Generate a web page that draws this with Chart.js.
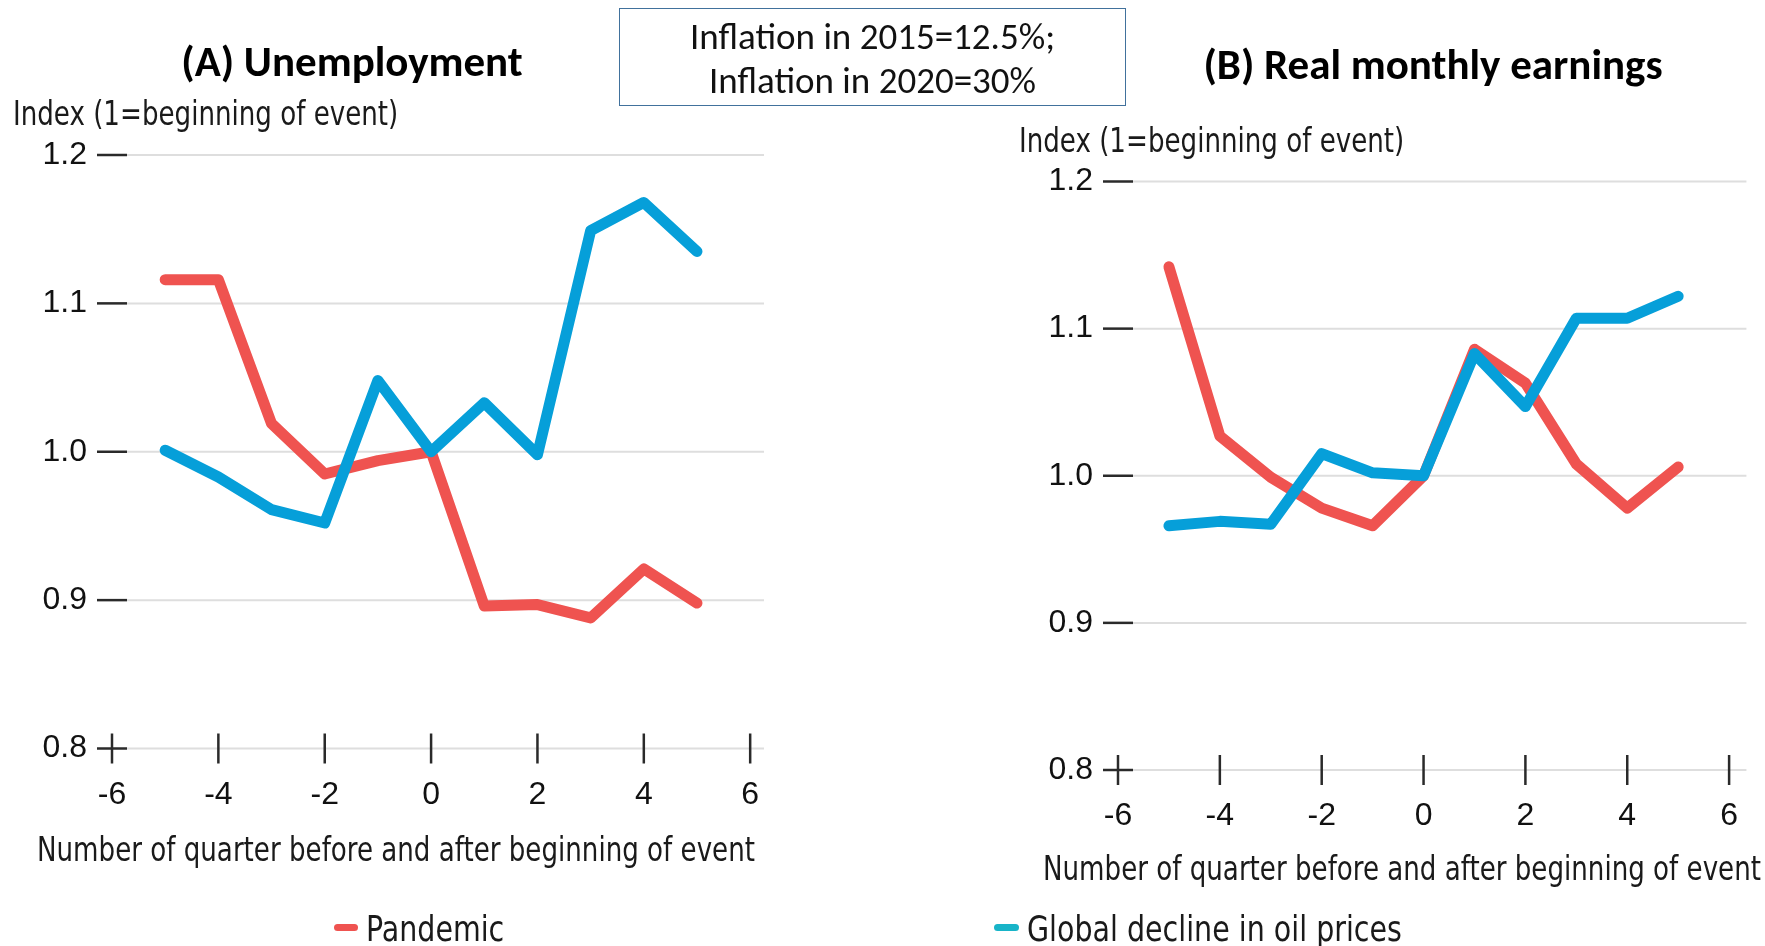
<!DOCTYPE html>
<html>
<head>
<meta charset="utf-8">
<script src="https://cdn.jsdelivr.net/npm/chart.js@4/dist/chart.umd.min.js"></script>
<style>
  html, body { margin: 0; padding: 0; background: #fff; }
  #wrap { position: relative; width: 1765px; height: 946px; overflow: hidden; }
  canvas { position: absolute; top: 0; }
  .txt { position: absolute; white-space: nowrap; color: #1a1a1a; }
  .title { font-family: Carlito, Lato, sans-serif; font-weight: bold; font-size: 43px; line-height: 50px; transform: translateX(-50%); color: #000; }
  .narrow { font-family: "Liberation Sans Narrow", "DejaVu Sans Condensed", "Liberation Sans", sans-serif; font-size: 33px; line-height: 36px;
            transform: scaleX(0.88); transform-origin: left center; }
  .legend { font-size: 36px; line-height: 40px; }
  .dash { position: absolute; height: 7px; border-radius: 4px; }
  #note { position: absolute; left: 619px; top: 8px; width: 505px; height: 90px; padding-top: 6px; border: 1.5px solid #41719c;
          font-family: Carlito, Lato, sans-serif; font-size: 37px; line-height: 44px; text-align: center; color: #111; }
</style>
</head>
<body>
<div id="wrap">
  <canvas id="chartA" width="880" height="946" style="left:0"></canvas>
  <canvas id="chartB" width="885" height="946" style="left:880px"></canvas>

  <div class="txt title" style="left:352px; top:37px">(A) Unemployment</div>
  <div class="txt title" style="left:1433px; top:40px">(B) Real monthly earnings</div>
  <div id="note">Inflation in 2015=12.5%;<br>Inflation in 2020=30%</div>

  <div class="txt narrow" style="left:13px; top:96px">Index (1=beginning of event)</div>
  <div class="txt narrow" style="left:1019px; top:123px">Index (1=beginning of event)</div>
  <div class="txt narrow" style="left:37px; top:832px">Number of quarter before and after beginning of event</div>
  <div class="txt narrow" style="left:1043px; top:851px">Number of quarter before and after beginning of event</div>

  <div class="dash" style="left:334px; top:924px; width:24px; background:#ef5350"></div>
  <div class="txt narrow legend" style="left:366px; top:909px">Pandemic</div>
  <div class="dash" style="left:994px; top:924px; width:25px; background:#18b4c8"></div>
  <div class="txt narrow legend" style="left:1027px; top:909px">Global decline in oil prices</div>
</div>

<script>
// quarters relative to beginning of event
const quarters = [-5, -4, -3, -2, -1, 0, 1, 2, 3, 4, 5];

// (A) Unemployment index
const unempPandemic = [1.116, 1.116, 1.019, 0.985, 0.994, 1.0, 0.896, 0.897, 0.888, 0.921, 0.898];
const unempOil = [1.001, 0.983, 0.961, 0.952, 1.048, 1.0, 1.033, 0.998, 1.149, 1.168, 1.135];

// (B) Real monthly earnings index
const earnPandemic = [1.142, 1.027, 0.999, 0.978, 0.966, 1.0, 1.086, 1.063, 1.008, 0.978, 1.006];
const earnOil = [0.966, 0.969, 0.967, 1.015, 1.002, 1.0, 1.083, 1.047, 1.107, 1.107, 1.122];

const xTicks = [-6, -4, -2, 0, 2, 4, 6];
const yTicks = [0.8, 0.9, 1.0, 1.1, 1.2];

const RED = "#ef5350";
const BLUE = "#069fd9";

function pts(vals) {
    return quarters.map((q, i) => ({ x: q, y: vals[i] }));
}

// axis lines drawn as "cross" ticks like the original figure
const crossTicks = {
    id: "crossTicks",
    beforeDatasetsDraw(chart) {
        const { ctx, chartArea } = chart;
        const xs = chart.scales.x;
        const ys = chart.scales.y;
        const x0 = xs.getPixelForValue(xTicks[0]);
        const y0 = ys.getPixelForValue(yTicks[0]);
        const half = 15;
        ctx.save();
        yTicks.forEach((v) => {
            const py = ys.getPixelForValue(v);
            ctx.strokeStyle = "#dedede";
            ctx.lineWidth = 2;
            ctx.beginPath();
            ctx.moveTo(x0 + half, py);
            ctx.lineTo(chartArea.right, py);
            ctx.stroke();
            ctx.strokeStyle = "#2a2a2a";
            ctx.lineWidth = 2.5;
            ctx.beginPath();
            ctx.moveTo(x0 - half, py);
            ctx.lineTo(x0 + half, py);
            ctx.stroke();
        });
        xTicks.forEach((v) => {
            const px = xs.getPixelForValue(v);
            ctx.strokeStyle = "#2a2a2a";
            ctx.lineWidth = 2.5;
            ctx.beginPath();
            ctx.moveTo(px, y0 - half);
            ctx.lineTo(px, y0 + half);
            ctx.stroke();
        });
        ctx.restore();
    },
};

function makeChart(id, pandemic, oil, axisWidth, xMax, pad) {
    const ctx = document.getElementById(id).getContext("2d");
    return new Chart(ctx, {
        type: "line",
        data: {
            datasets: [
                // first dataset is drawn on top
                { label: "Global decline in oil prices", data: pts(oil), borderColor: BLUE },
                { label: "Pandemic", data: pts(pandemic), borderColor: RED },
            ],
        },
        options: {
            responsive: false,
            animation: false,
            devicePixelRatio: 1,
            layout: { padding: pad },
            elements: {
                line: { borderWidth: 11, tension: 0, borderCapStyle: "round", borderJoinStyle: "round" },
                point: { radius: 0 },
            },
            clip: false,
            plugins: {
                legend: { display: false },
                title: { display: false },
                tooltip: { enabled: false },
            },
            scales: {
                x: {
                    type: "linear",
                    min: -6,
                    max: xMax,
                    grid: { display: false, drawTicks: false },
                    border: { display: false },
                    afterBuildTicks: (axis) => { axis.ticks = xTicks.map((v) => ({ value: v })); },
                    afterFit: (axis) => { axis.height = 100; },
                    ticks: {
                        padding: 27,
                        color: "#111",
                        font: { family: "Liberation Sans", size: 32 },
                        callback: (v) => String(v),
                    },
                },
                y: {
                    min: 0.8,
                    max: 1.2,
                    grid: { display: false, drawTicks: false },
                    border: { display: false },
                    afterBuildTicks: (axis) => { axis.ticks = yTicks.map((v) => ({ value: v })); },
                    afterFit: (axis) => { axis.width = axisWidth; },
                    ticks: {
                        padding: 25,
                        color: "#111",
                        font: { family: "Liberation Sans", size: 32 },
                        callback: (v) => v.toFixed(1),
                    },
                },
            },
        },
        plugins: [crossTicks],
    });
}

document.addEventListener("DOMContentLoaded", function () {
    makeChart("chartA", unempPandemic, unempOil, 112, 6.26, { top: 155, left: 0, right: 116, bottom: 97.5 });
    makeChart("chartB", earnPandemic, earnOil, 238, 6.34, { top: 181.5, left: 0, right: 0, bottom: 76 });
});
</script>
</body>
</html>
